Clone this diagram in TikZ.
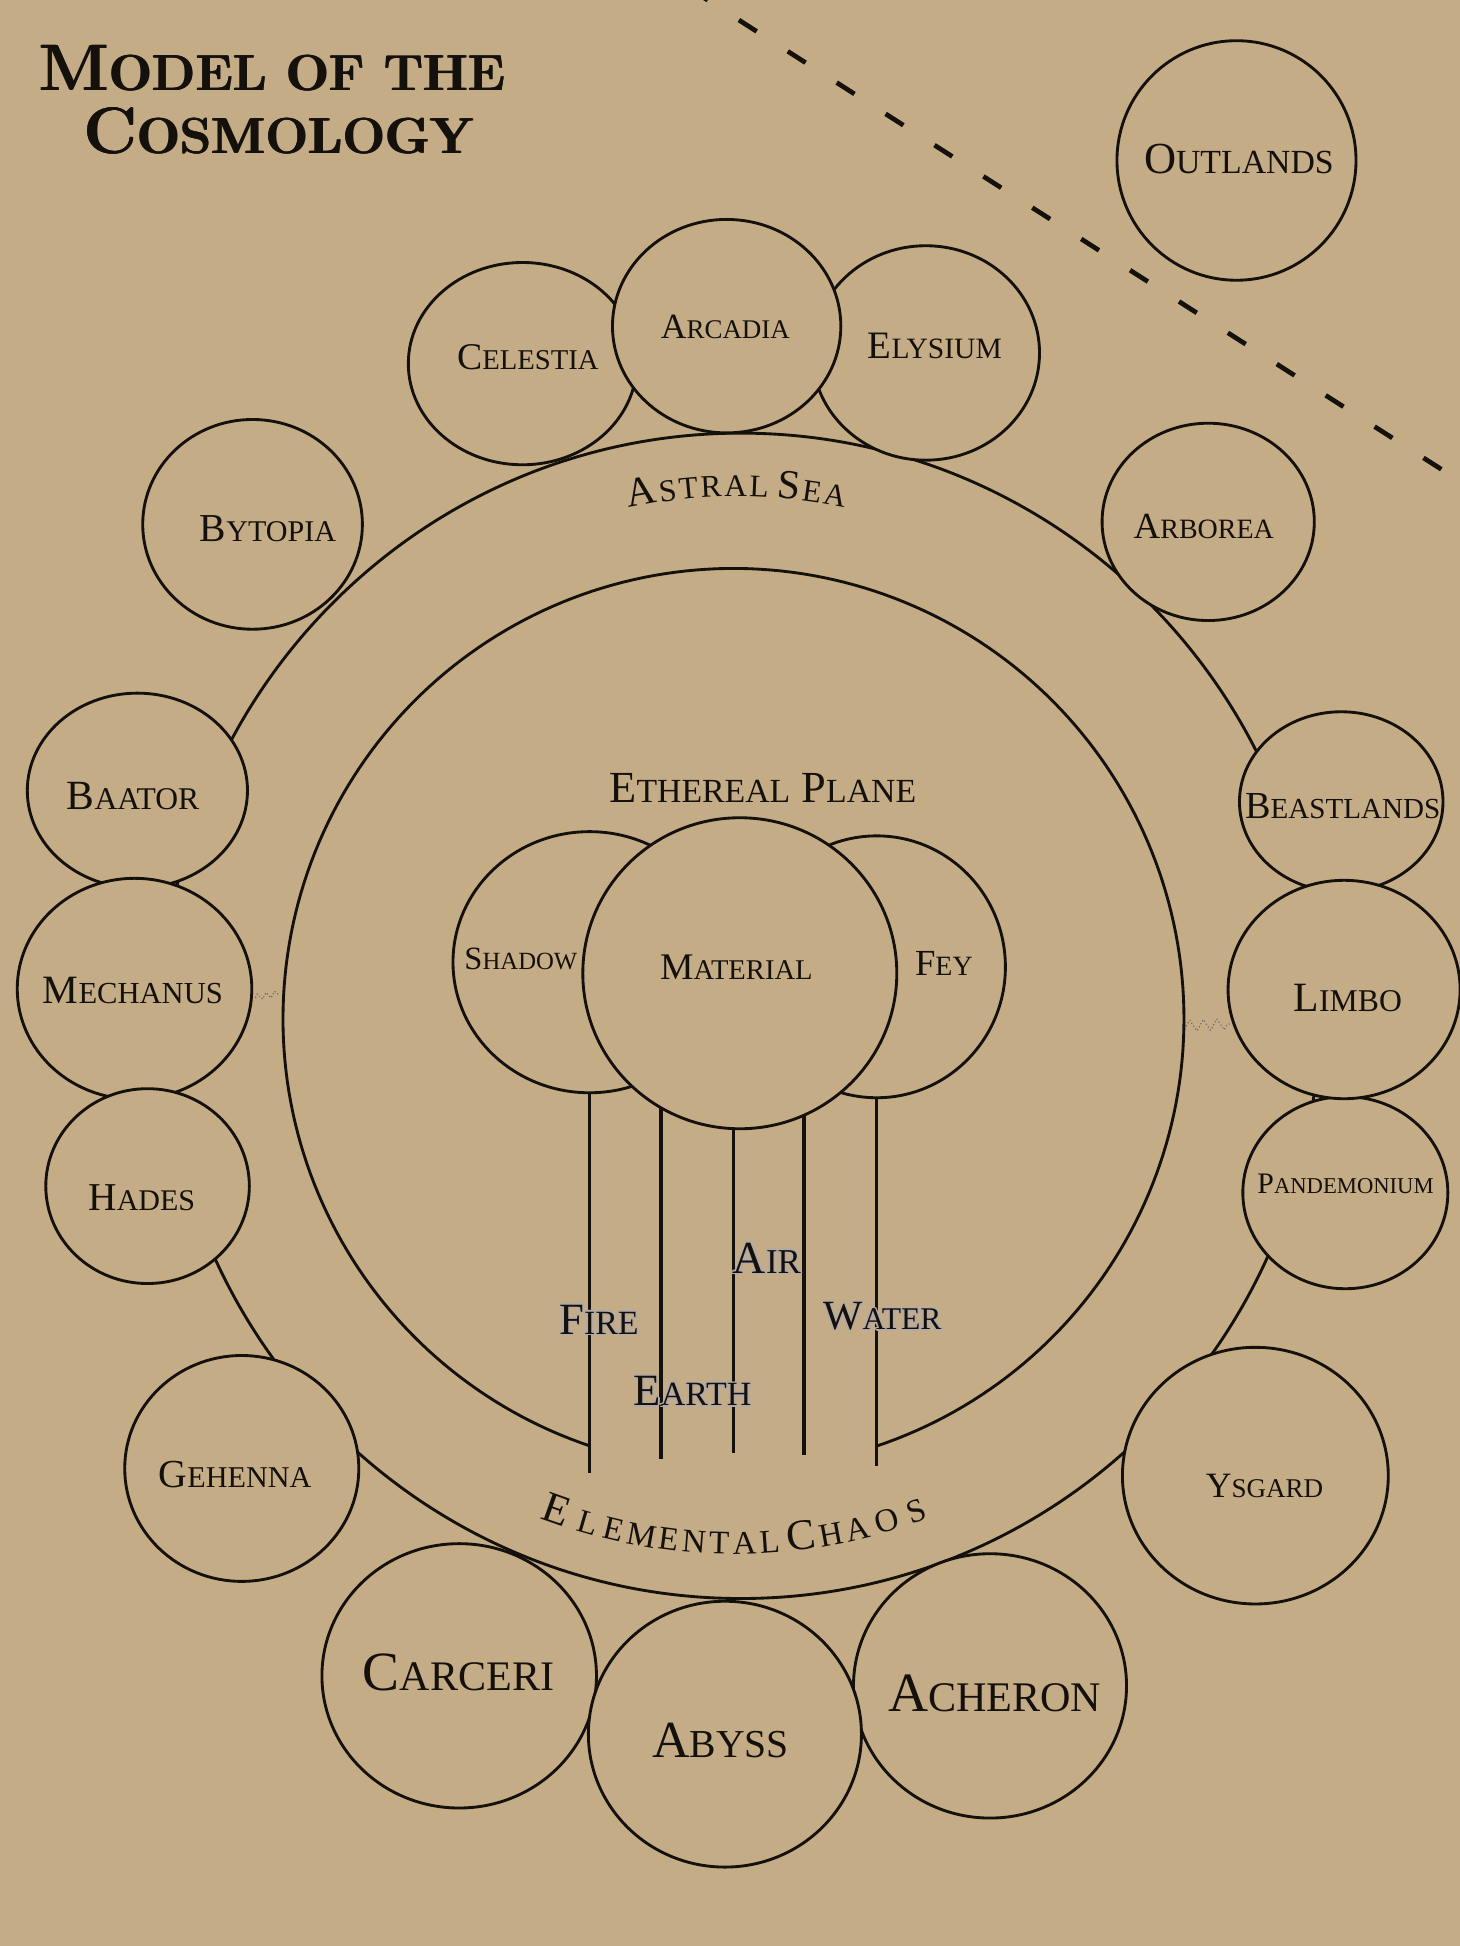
\documentclass[tikz,border=0pt]{standalone}
\usepackage{graphicx}
\usepackage{fontspec}
\newfontfamily\lib{Liberation Serif}
\usetikzlibrary{shapes.geometric,decorations.text,decorations.pathmorphing}
\definecolor{parch}{RGB}{196,172,134}
\definecolor{ink}{RGB}{20,16,12}
\definecolor{haloC}{RGB}{178,170,168}
\newcommand\SCw[2]{#1\scalebox{0.76}{#2}}
\newcommand\fs[1]{\lib\fontsize{#1}{#1}\selectfont}
\newcommand\gp{\fs{12}}
\newcommand\gw{\fs{24}}
\newcommand\gx{\fs{36}}
\newcommand\gq{\fs{7}}
\newcommand\sm{\fs{26.6}}
\newcommand\sa{\fs{25.3}}
\newcommand\ba{\fs{33.3}}
\newcommand\plane[5]{\node[plane, minimum width=#4*2pt, minimum height=#5*2pt] (#1) at (#2,#3) {};}
\newcommand\plabel[5]{\node[lbl, font=\fs{#4}] (#1) at (#2,#3) {#5};}
\newcommand\halolabel[5]{%
  \foreach \a in {0,45,...,315}{\node[lbl, text=haloC, font=\fs{#4}, shift={(\a:1.3)}] (h#1\a) at (#2,#3) {#5};}%
  \node[lbl, font=\fs{#4}] (#1) at (#2,#3) {#5};}
\newcommand\titleline[4]{%
  \node[lbl, font=\fontsize{53}{53}\selectfont\bfseries, xshift=-0.6pt] (#1a) at (#2,#3) {#4};
  \node[lbl, font=\fontsize{53}{53}\selectfont\bfseries, xshift=0.6pt] (#1b) at (#2,#3) {#4};
  \node[lbl, font=\fontsize{53}{53}\selectfont\bfseries] (#1) at (#2,#3) {#4};}
\begin{document}
\begin{tikzpicture}[x=1pt,y=-1pt,
  plane/.style={ellipse, draw=ink, line width=2.3pt, fill=parch, inner sep=0pt, outer sep=0pt},
  ring/.style={draw=ink, line width=2.3pt},
  lbl/.style={anchor=base, inner sep=0pt, outer sep=0pt, text=ink},
  thinel/.style={draw=ink, line width=2.2pt},
  thickel/.style={draw=ink, line width=3.4pt},
  dashline/.style={draw=ink, line width=3.8pt, dash pattern=on 17pt off 29.77pt},
  squig/.style={draw=black!60, line width=1.3pt, line cap=round, dash pattern=on 0.01pt off 2.8pt, decorate, decoration={zigzag, amplitude=2.5pt, segment length=7pt}}
]
\useasboundingbox (0,0) rectangle (1176,1568);
\fill[parch] (0,0) rectangle (1176,1568);

% dashed boundary line
\coordinate (dA) at (1161.3,378.1);
\coordinate (dB) at (554.8,-9.8);
\begin{scope}
\clip (0,0) rectangle (1176,1568);
\draw[dashline] (dA) -- (dB);
\end{scope}

% Astral Sea ring
\coordinate (astralC) at (597,818.5);
\draw[ring] (astralC) ellipse [x radius=466, y radius=469.5];

% Ethereal ring (open at the bottom)
\draw[ring] plot[domain=108.5:431.5, samples=240] ({591+363*cos(\x)},{821+363*sin(\x)});

% elemental lines
\coordinate (fireT) at (474.8,780);  \coordinate (fireB) at (474.8,1186.5);
\coordinate (earthT) at (532.3,784); \coordinate (earthB) at (532.3,1175.8);
\coordinate (airT) at (590.9,784);   \coordinate (airB) at (590.9,1170.4);
\coordinate (fourT) at (647.8,784);  \coordinate (fourB) at (647.8,1172.6);
\coordinate (waterT) at (706.4,779); \coordinate (waterB) at (706.4,1181.1);
\draw[thinel] (fireT) -- (fireB);
\draw[thickel] (earthT) -- (earthB);
\draw[thinel] (airT) -- (airB);
\draw[thickel] (fourT) -- (fourB);
\draw[thinel] (waterT) -- (waterB);

% small dotted squiggles
\coordinate (sqA1) at (206,803.5); \coordinate (sqA2) at (225.5,800.5);
\draw[squig] (sqA1) -- (sqA2);
\coordinate (sqB1) at (956,826.5); \coordinate (sqB2) at (993,825);
\draw[squig, decoration={zigzag, amplitude=4.5pt, segment length=11pt}] (sqB1) -- (sqB2);

% planes
\plane{outlands}{996.3}{129.3}{96.3}{96.5}
\plane{celestia}{421}{293}{92}{81.5}
\plane{elysium}{746}{284.4}{91.6}{86.4}
\plane{arcadia}{585.5}{262.8}{92}{86}
\plane{bytopia}{203.5}{422.5}{88.5}{84.5}
\plane{arborea}{973.5}{420.5}{85.5}{79.5}
\plane{baator}{110.7}{637}{88.7}{78.5}
\plane{mechanus}{108.4}{796.7}{94.5}{89}
\plane{hades}{118.9}{955.7}{82}{78.5}
\plane{gehenna}{194.8}{1183.2}{94.3}{91}
\plane{carceri}{370}{1350.3}{110.6}{106.5}
\plane{acheron}{797.7}{1358.4}{110}{106.5}
\plane{abyss}{584.1}{1397.3}{110}{107.1}
\plane{ysgard}{1011.5}{1189}{107.1}{103.4}
\plane{beastlands}{1080.7}{646}{82}{72.5}
\plane{pandemonium}{1084}{961}{82.6}{77.4}
\plane{limbo}{1083}{797.3}{93.5}{88}
\plane{shadow}{475}{775.3}{110}{105.2}
\plane{fey}{706.4}{779}{103.7}{105.5}
\plane{material}{596.1}{784.2}{126.5}{125.3}

% title
\titleline{title1}{219.5}{73}{M\scalebox{0.77}{ODEL OF THE}}
\titleline{title2}{224.5}{124}{C\scalebox{0.77}{OSMOLOGY}}

% plane labels
\plabel{outlandsT}{998.2}{139.7}{35.8}{\SCw{O}{UTLANDS}}
\plabel{celestiaT}{425.3}{297.7}{30.4}{\SCw{C}{ELESTIA}}
\plabel{arcadiaT}{584.5}{273}{28.6}{\SCw{A}{RCADIA}}
\plabel{elysiumT}{753.2}{289.1}{31.3}{\SCw{E}{LYSIUM}}
\plabel{bytopiaT}{216}{436}{31.9}{\SCw{B}{YTOPIA}}
\plabel{arboreaT}{970}{434}{29.7}{\SCw{A}{RBOREA}}
\plabel{baatorT}{107.2}{652.3}{33.5}{\SCw{B}{AATOR}}
\plabel{mechanusT}{107}{808.6}{32.4}{\SCw{M}{ECHANUS}}
\plabel{hadesT}{114.2}{975.4}{31.8}{\SCw{H}{ADES}}
\plabel{gehennaT}{189.4}{1198.4}{32}{\SCw{G}{EHENNA}}
\plabel{carceriT}{369.5}{1362}{44.6}{\SCw{C}{ARCERI}}
\plabel{abyssT}{580.5}{1415.7}{42}{\SCw{A}{BYSS}}
\plabel{acheronT}{801.5}{1379.4}{44.7}{\SCw{A}{CHERON}}
\plabel{ysgardT}{1018.9}{1206.4}{28.7}{\SCw{Y}{SGARD}}
\plabel{pandemoniumT}{1084.2}{961.9}{24}{\SCw{P}{ANDEMONIUM}}
\plabel{limboT}{1086}{815}{33.6}{\SCw{L}{IMBO}}
\plabel{beastlandsT}{1081.9}{659.6}{30.8}{\SCw{B}{EASTLANDS}}
\plabel{shadowT}{419.7}{781.1}{26.2}{\SCw{S}{HADOW}}
\plabel{materialT}{593.3}{789.1}{30.3}{\SCw{M}{ATERIAL}}
\plabel{feyT}{760.5}{785.9}{29.6}{\SCw{F}{EY}}
\plabel{etherealT}{614.6}{646.7}{35.8}{\SCw{E}{THEREAL} \SCw{P}{LANE}}

% element labels with a faint halo
\halolabel{fireT}{482.6}{1075}{36}{\SCw{F}{IRE}}
\halolabel{earthT}{558}{1132.8}{36}{\SCw{E}{ARTH}}
\halolabel{airT}{617.9}{1026}{37}{\SCw{A}{IR}}
\halolabel{waterT}{711}{1071.5}{33.5}{\SCw{W}{ATER}}

% curved labels
\path[decorate, decoration={text along path, text align=center, text color=ink,
  text={|\ba|A|\gq| |\sa|S|\gq| |\sa|T|\gq| |\sa|R|\gq| |\sa|A|\gq| |\sa|L |\ba|S|\gq| |\sa|E|\gq| |\sa|A}}]
  plot[domain=0:1, samples=120] ({594+418.5*cos(235+70*\x)},{818.5+418.5*sin(235+70*\x)});
\path[decorate, decoration={text along path, text align=center, text color=ink,
  text={|\fs{35}|E|\gx| |\sm|L|\gw| |\sm|E|\gp| |\sm|M|\gp| |\sm|E|\gp| |\sm|N|\gp| |\sm|T|\gp| |\sm|A|\gp| |\sm|L |\fs{35}|C|\gp| |\sm|H|\gp| |\sm|A|\gw| |\sm|O|\gx| |\sm|S}}]
  plot[domain=0:1, samples=120] ({592+434*cos(114-48*\x)},{818.5+434*sin(114-48*\x)});
\end{tikzpicture}
\end{document}
